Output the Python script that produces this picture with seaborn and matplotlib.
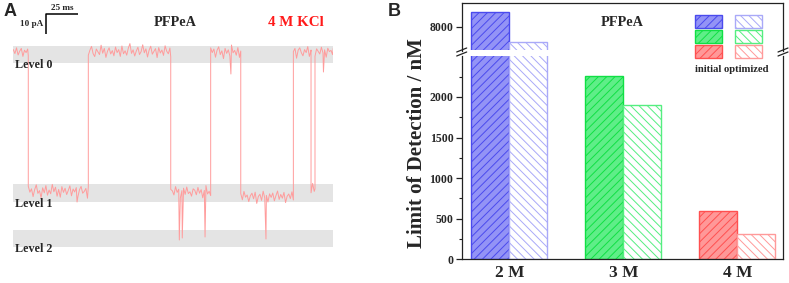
"""
Two panels: (A) single-channel current trace of PFPeA in 4 M KCl with the
three current levels marked, (B) limit of detection per KCl concentration,
initial vs optimized, on a broken y axis.
"""

import numpy as np
import pandas as pd
import seaborn as sns
import matplotlib.pyplot as plt
from matplotlib.patches import Rectangle
from matplotlib.lines import Line2D


# -------------------------------------------------
# Data - panel B
# -------------------------------------------------

CONCS = ["2 M", "3 M", "4 M"]
LOD_INITIAL = [8290, 2255, 595]
LOD_OPTIMIZED = [7700, 1905, 310]

# -------------------------------------------------
# Data - panel A (trace, ms / pA)
# -------------------------------------------------

SEG_T0 = [0.0, 11.7, 58.6, 123.0, 154.2, 177.7, 218.8, 232.6, 235.7]
SEG_T1 = [11.7, 58.6, 123.0, 154.2, 177.7, 218.8, 232.6, 235.7, 250.0]
SEG_LEVEL = [0.0, -69.5, 0.0, -70.0, 0.0, -72.5, 0.0, -69.0, 0.0]

SPIKE_T = [49.8, 129.7, 132.0, 149.8, 170.0, 197.4, 242.3]
SPIKE_I = [-75.0, -94.0, -93.0, -92.5, -11.0, -93.5, -10.0]

NOISE_PA = [
    1.2, -0.8, 2.1, -1.5, 0.4, 1.8, -2.2, 0.9, -0.3, 1.5,
    -1.9, 2.4, -0.6, 1.1, -2.8, 0.7, 3.1, -1.2, 0.2, -3.4,
    1.6, -0.9, 2.7, -2.1, 0.5, -1.4, 3.3, -0.4, 1.9, -2.6,
    0.8, -3.1, 2.2, -0.7, 1.4, -1.8, 0.3, 2.6, -2.4, 1.0,
    -0.5, 1.7, -2.9, 0.6, 2.3, -1.1, -0.2, 1.3, -3.6, 2.0,
    -1.6, 0.9, 2.8, -0.8, -2.3, 1.5, 0.1, -1.3, 3.4, -0.6,
    1.8, -2.7, 0.4, 2.1, -1.0, 0.7, -1.9, 2.5, -0.3, 1.2,
    -2.2, 3.0, -0.9, 0.6, -1.6, 1.9, 4.2, -0.7, 1.1, -2.0,
    0.5, 2.4, -1.3, 0.2, 3.6, -0.4, 1.6, -2.5, 0.9, 2.9,
    -1.1, 0.3, 1.7, -2.8, 2.2, -0.5, 1.0, -1.7, 3.1, 0.4,
    -0.9, 2.0, -2.4, 1.3, 0.6, -1.5, 2.7, -0.2, 1.4, -3.0,
    0.7, 1.9, -1.2, 2.5, -0.8, 0.1, -2.1, 1.6, 0.9, -1.4,
    2.3, -0.6, 1.2, -2.9, 0.8, 3.2, -1.0, 0.4, -1.8, 2.1,
    -0.3, 1.5, -2.6, 0.9, 2.6, -1.3, 0.6, -3.3, 1.8, -0.7,
    1.1, -2.0, 3.5, -0.4, 0.8, -1.6, 2.2, -2.7, 0.5, 1.7,
    -1.4, 2.8, -0.1, 1.0, -2.3, 0.6, 1.9, -0.9, 2.4, -3.2,
    0.3, 1.4, -1.7, 2.9, -0.5, 0.8, -2.5, 1.6, -0.2, 2.0,
    -1.9, 0.7, 3.0, -1.2, 1.3, -0.6, 2.3, -2.8, 0.4, 1.5,
    -0.8, 2.6, -1.5, 0.2, 1.8, -3.1, 0.9, 2.1, -0.4, -1.9,
    1.2, -0.3, 2.7, -2.2, 0.6, 1.0, -1.4, 3.3, -0.7, 0.5,
    -2.1, 1.6, 0.3, -1.0, 2.4, -0.5, 1.1, -2.6, 1.9, 0.2,
    0.8, -1.3, 2.0, -0.6, 1.5, -2.3,
]

LEVEL_NAMES = ["Level 0", "Level 1", "Level 2"]
LEVEL_BANDS = [(-5.5, 3.0), (-75.0, -66.0), (-97.5, -89.0)]


# -------------------------------------------------
# Matplotlib configuration
# -------------------------------------------------

sns.set_style("white")
plt.rcParams['font.family'] = ['Liberation Serif', 'DejaVu Serif']
plt.rcParams['font.weight'] = 'bold'
plt.rcParams['hatch.linewidth'] = 0.7

W, H = 789, 283
fig = plt.figure(figsize=(W / 100, H / 100), dpi=100)


def fx(px):
    return px / W


def fy(py):
    return 1 - py / H


# -------------------------------------------------
# Panel A - trace
# -------------------------------------------------

STEP = 1.25
t_all, i_all = [], []
k = 0
for t0, t1, lvl in zip(SEG_T0, SEG_T1, SEG_LEVEL):
    ts = np.append(np.arange(t0, t1, STEP), t1)
    for t in ts:
        t_all.append(t)
        i_all.append(lvl + NOISE_PA[k % len(NOISE_PA)])
        k += 1
t_all += SPIKE_T
i_all += SPIKE_I
order = np.argsort(t_all, kind="stable")
trace = pd.DataFrame({"t": np.array(t_all)[order], "i": np.array(i_all)[order]})

axA = fig.add_axes([fx(13.3), fy(260), fx(333.3) - fx(13.3), 260 / H])
axA.set_xlim(0, 250)
axA.set_ylim(-104, 26)
axA.axis("off")

for lo, hi in LEVEL_BANDS:
    axA.axhspan(lo, hi, color="#e4e4e4", lw=0, zorder=0)

sns.lineplot(data=trace, x="t", y="i", sort=False, estimator=None,
             color="#ff9c9c", lw=0.7, ax=axA)

label_y = [-6.5, -75.8, -98.3]
for name, yy in zip(LEVEL_NAMES, label_y):
    axA.text(1.3, yy, name, fontsize=8.7, ha="left", va="center")

# scale bar 25 ms x 10 pA
axA.plot([25.5, 25.5, 50.5], [9, 19, 19], color="black", lw=1.1,
         clip_on=False, solid_capstyle="butt")
axA.text(38, 22, "25 ms", fontsize=6.6, ha="center", va="center")
axA.text(23.2, 14, "10 pA", fontsize=6.6, ha="right", va="center")
axA.text(126.3, 15, "PFPeA", fontsize=10.3, ha="center", va="center")
axA.text(220.9, 15, "4 M KCl", fontsize=10.8, ha="center", va="center",
         color="#ff1a1a")

fig.text(fx(10), fy(11.5), "A", fontsize=13, fontweight="bold",
         family="Liberation Sans", ha="center", va="center")
fig.text(fx(394), fy(11.5), "B", fontsize=13, fontweight="bold",
         family="Liberation Sans", ha="center", va="center")


# -------------------------------------------------
# Panel B - broken-axis bar chart
# -------------------------------------------------

FACE = {"initial": ["#9393f6", "#5fee88", "#ff9898"],
        "optimized": ["white", "white", "white"]}
EDGE = {"initial": ["#4a4aee", "#10e044", "#ff5050"],
        "optimized": ["#a9a9f8", "#55ee80", "#ff9a9a"]}
HATCH = {"initial": "////", "optimized": "\\\\\\\\"}
TYPES = ["initial", "optimized"]

df = pd.DataFrame({
    "conc": CONCS * 2,
    "lod": LOD_INITIAL + LOD_OPTIMIZED,
    "type": ["initial"] * 3 + ["optimized"] * 3,
})

left, right = 461.7, 783.0
axT = fig.add_axes([fx(left), fy(50.5), fx(right) - fx(left), (50.5 - 3) / H])
axB = fig.add_axes([fx(left), fy(259.3), fx(right) - fx(left), (259.3 - 55.5) / H])

for ax in (axT, axB):
    sns.barplot(data=df, x="conc", y="lod", hue="type", hue_order=TYPES,
                width=0.667, errorbar=None, legend=False, saturation=1, ax=ax)
    for h, cont in enumerate(ax.containers):
        tp = TYPES[h]
        for j, bar in enumerate(cont):
            bar.set_facecolor(FACE[tp][j])
            bar.set_edgecolor(EDGE[tp][j])
            bar.set_hatch(HATCH[tp])
            bar.set_linewidth(1.0)
    ax.set_xlim(-0.417, 2.40)
    ax.set_xlabel("")
    ax.set_ylabel("")
    for s in ax.spines.values():
        s.set_color("#222222")
        s.set_linewidth(0.9)
    ax.tick_params(axis="y", which="major", direction="out", length=4,
                   width=0.9, color="#222222", labelsize=8.5, pad=2, left=True)
    ax.tick_params(axis="y", which="minor", direction="out", length=2,
                   width=0.8, color="#222222", left=True)

axT.set_ylim(7525, 8475)
axT.set_yticks([8000])
axT.set_xticks([])
axT.spines["bottom"].set_visible(False)

axB.set_ylim(0, 2510)
axB.set_yticks([0, 500, 1000, 1500, 2000])
axB.set_yticks(np.arange(250, 2510, 500), minor=True)
axB.spines["top"].set_visible(False)
axB.tick_params(axis="x", length=0, labelsize=12.5, pad=4)

fig.text(fx(417), fy(143), "Limit of Detection / nM", rotation=90,
         fontsize=15, ha="center", va="center")

fig.text(fx(622), fy(22), "PFPeA", fontsize=10.3, ha="center", va="center")

# break marks
for xb in (left, right):
    for yb in (50.0, 54.0):
        fig.add_artist(Line2D([fx(xb - 5), fx(xb + 5)], [fy(yb + 2), fy(yb - 2)],
                              color="#222222", lw=0.9))

# legend boxes
rows = [15.0, 30.0, 45.0]
cols = [695.0, 735.0]
for j, y0 in enumerate(rows):
    for h, x0 in enumerate(cols):
        tp = TYPES[h]
        fig.add_artist(Rectangle((fx(x0), fy(y0 + 12.7)), 27 / W, 12.7 / H,
                                 transform=fig.transFigure,
                                 facecolor=FACE[tp][j], edgecolor=EDGE[tp][j],
                                 hatch=HATCH[tp], lw=1.0))
fig.text(fx(732), fy(69), "initial optimized", fontsize=7.7,
         ha="center", va="center")

fig.savefig("out.png", dpi=100)
